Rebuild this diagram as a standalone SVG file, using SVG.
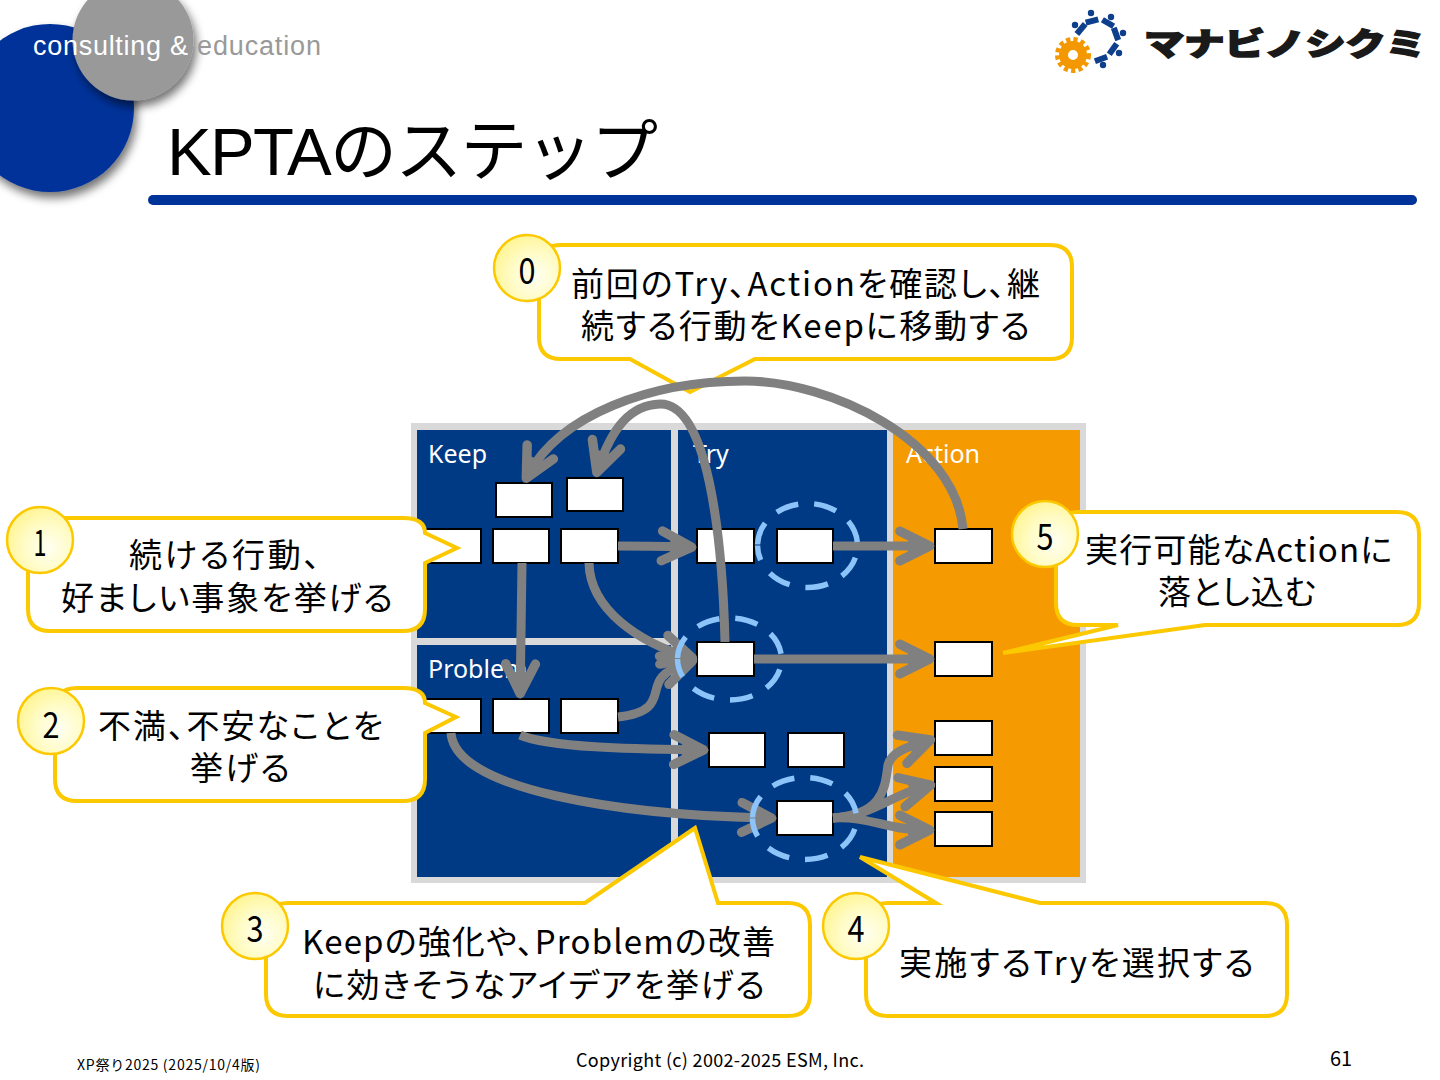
<svg xmlns="http://www.w3.org/2000/svg" width="1440" height="1080" viewBox="0 0 1440 1080">
<style>
text{font-family:"Noto Sans CJK JP","Noto Sans",sans-serif;fill:#000}
.t{font-size:33px;text-anchor:start;font-feature-settings:"palt"}
.n{font-size:36px;text-anchor:middle}
.h{font-family:"Noto Sans","Liberation Sans",sans-serif;font-size:25px;fill:#fff}
.b{fill:#fff;stroke:#000;stroke-width:2}
.c{fill:#fff;stroke:#fcc800;stroke-width:4;stroke-linejoin:miter}
.o{fill:url(#gy);stroke:#fcc800;stroke-width:2.5}
.d{fill:none;stroke:#8cc4fa;stroke-width:5.5;stroke-dasharray:23 16;stroke-dashoffset:-1}
.a{fill:none;stroke:#808080;stroke-width:9;marker-end:url(#ah)}
.p{fill:#0e3f8c}
</style>
<defs>
<marker id="ah" viewBox="-6 -4 8 8" refX="0" refY="0" markerWidth="8" markerHeight="8" orient="auto" markerUnits="strokeWidth" overflow="visible">
<path d="M-2.9 -1.65 L0.4 0 L-2.9 1.65" fill="none" stroke="#808080" stroke-width="1.05" stroke-linecap="round" stroke-linejoin="round"/>
<path d="M-2 -1.4 L1 0 L-2 1.4Z" fill="#808080"/>
</marker>
<radialGradient id="gy" cx="0.62" cy="0.62" r="0.7"><stop offset="0" stop-color="#fffff2"/><stop offset="0.5" stop-color="#fffcc8"/><stop offset="1" stop-color="#fff48c"/></radialGradient>
<filter id="sh" x="-30%" y="-30%" width="170%" height="170%"><feGaussianBlur in="SourceAlpha" stdDeviation="5"/><feOffset dx="3" dy="6"/><feComponentTransfer><feFuncA type="linear" slope="0.55"/></feComponentTransfer><feMerge><feMergeNode/><feMergeNode in="SourceGraphic"/></feMerge></filter>
</defs>
<rect width="1440" height="1080" fill="#fff"/>
<g id="header">
<circle cx="50" cy="108" r="84" fill="#003399" filter="url(#sh)"/>
<circle cx="133" cy="40" r="60.5" fill="#999999" filter="url(#sh)"/>
<text x="33" y="55" font-size="27" textLength="155" style="font-family:'Liberation Sans',sans-serif;fill:#fff">consulting &amp;</text>
<text x="197" y="55" font-size="27" textLength="124" style="font-family:'Liberation Sans',sans-serif;fill:#999">education</text>
<text x="167" y="175" font-size="67" textLength="491" style="font-family:'Liberation Sans','Noto Sans CJK JP',sans-serif">KPTAのステップ</text>
<rect x="148" y="195" width="1269" height="10" rx="5" fill="#003399"/>
</g>
<g id="logo">
<circle cx="1073" cy="55" r="15.5" fill="none" stroke="#f39800" stroke-width="5" stroke-dasharray="4.2 3.1"/>
<circle cx="1073" cy="55" r="9.5" fill="none" stroke="#f39800" stroke-width="9"/>
<g class="p">
<circle cx="1091" cy="13" r="3.2"/><circle cx="1111" cy="17" r="3.2"/><circle cx="1123" cy="33" r="3.2"/><circle cx="1119" cy="53" r="3.2"/><circle cx="1103" cy="65" r="3.2"/><circle cx="1075" cy="25" r="3.2"/>
<rect x="-6.5" y="-3" width="13" height="6" transform="translate(1092 21) rotate(-15)"/>
<rect x="-6.5" y="-3" width="13" height="6" transform="translate(1108 23) rotate(30)"/>
<rect x="-6.5" y="-3" width="13" height="6" transform="translate(1116 34) rotate(70)"/>
<rect x="-6.5" y="-3" width="13" height="6" transform="translate(1113 49) rotate(-55)"/>
<rect x="-6.5" y="-3" width="13" height="6" transform="translate(1101 59) rotate(-20)"/>
<rect x="-6.5" y="-3" width="13" height="6" transform="translate(1081 29) rotate(-50)"/>
</g>
<text x="1144" y="55" font-size="31" font-weight="900" textLength="282" lengthAdjust="spacingAndGlyphs" style="fill:#1a1a1a;stroke:#1a1a1a;stroke-width:1.6;stroke-linejoin:miter">マナビノシクミ</text>
</g>
<g id="board">
<rect x="411" y="423" width="675" height="460" fill="#d9d9d9"/>
<rect x="417" y="430" width="254" height="208" fill="#003984"/>
<rect x="417" y="645" width="254" height="232" fill="#003984"/>
<rect x="678" y="430" width="209" height="447" fill="#003984"/>
<rect x="893" y="430" width="187" height="447" fill="#f59a00"/>
<text class="h" x="428" y="463">Keep</text>
<text class="h" x="428" y="678">Problem</text>
<text class="h" x="693" y="463">Try</text>
<text class="h" x="906" y="463">Action</text>
</g>
<g id="callout-0">
<path class="c" d="M561 245H1050Q1072 245 1072 267V337Q1072 359 1050 359H755L690 392L630 359H561Q539 359 539 337V267Q539 245 561 245Z"/>
<circle class="o" cx="527" cy="268" r="33"/>
<text class="n" x="527" y="284" textLength="17" lengthAdjust="spacingAndGlyphs">0</text>
<text class="t" x="571" y="296" textLength="469">前回のTry、Actionを確認し、継</text>
<text class="t" x="581" y="338" textLength="449">続する行動をKeepに移動する</text>
</g>
<g id="cards">
<rect class="b" x="496" y="483" width="56" height="34"/><rect class="b" x="567" y="478" width="56" height="33"/>
<rect class="b" x="425" y="529" width="56" height="34"/><rect class="b" x="493" y="529" width="56" height="34"/><rect class="b" x="561" y="529" width="57" height="34"/>
<rect class="b" x="697" y="529" width="57" height="34"/><rect class="b" x="777" y="529" width="56" height="34"/><rect class="b" x="935" y="529" width="57" height="34"/>
<rect class="b" x="697" y="642" width="57" height="34"/><rect class="b" x="935" y="642" width="57" height="34"/>
<rect class="b" x="425" y="699" width="56" height="34"/><rect class="b" x="493" y="699" width="56" height="34"/><rect class="b" x="561" y="699" width="57" height="34"/>
<rect class="b" x="709" y="733" width="56" height="34"/><rect class="b" x="788" y="733" width="56" height="34"/>
<rect class="b" x="935" y="721" width="57" height="34"/><rect class="b" x="935" y="767" width="57" height="34"/><rect class="b" x="935" y="812" width="57" height="34"/>
<rect class="b" x="777" y="801" width="56" height="34"/>
</g>
<g id="connectors">
<path class="a" d="M618 546C640 546 665 546 688 547"/>
<path class="a" d="M833 546H926"/>
<path class="a" d="M754 659C810 659 880 659 926 659"/>
<path class="a" d="M522 563L520.200 690"/>
<path class="a" d="M589 563C590 610 640 643 689 657"/>
<path class="a" d="M618 717C665 712 650 690 662 677C668 670 680 665 689 662"/>
<path class="a" d="M520 735C550 748 640 749 700 750"/>
<path class="a" d="M451 733C455 790 620 815 768 818"/>
<path class="a" d="M833 818C885 815 885 785 888 765C892 750 912 746 927 741"/>
<path class="a" d="M833 818C875 815 890 795 927 786"/>
<path class="a" d="M833 818C870 816 885 830 926 830"/>
<path class="a" d="M963 529C955 440 830 381 745 381C650 381 560 415 528 475"/>
<path class="a" d="M725 642C723 560 712 403 660 404C630 405 612 428 598 469"/>
</g>
<g id="selections">
<path class="d" d="M757.500 545.500a50 42 0 1 1 100 0a50 42 0 1 1 -100 0Z"/>
<path class="d" d="M677.500 659a52 41 0 1 1 104 0a52 41 0 1 1 -104 0Z"/>
<path class="d" d="M752.500 818.500a52 41 0 1 1 104 0a52 41 0 1 1 -104 0Z"/>
</g>
<g id="callout-1">
<path class="c" d="M50 518H403Q425 518 425 533L457 548L425 563V609Q425 631 403 631H50Q28 631 28 609V540Q28 518 50 518Z"/>
<circle class="o" cx="40" cy="540" r="33"/>
<text class="n" x="40" y="556" textLength="13" lengthAdjust="spacingAndGlyphs">1</text>
<text class="t" x="129" y="567" textLength="191">続ける行動、</text>
<text class="t" x="61" y="610" textLength="332">好ましい事象を挙げる</text>
</g>
<g id="callout-2">
<path class="c" d="M77 688H403Q425 688 425 703L456 717L425 733V779Q425 801 403 801H77Q55 801 55 779V710Q55 688 77 688Z"/>
<circle class="o" cx="51" cy="721" r="33"/>
<text class="n" x="51" y="738" textLength="17" lengthAdjust="spacingAndGlyphs">2</text>
<text class="t" x="98" y="738" textLength="285">不満、不安なことを</text>
<text class="t" x="190" y="780" textLength="100">挙げる</text>
</g>
<g id="callout-3">
<path class="c" d="M288 903H585L695 828L718 903H788Q810 903 810 925V994Q810 1016 788 1016H288Q266 1016 266 994V925Q266 903 288 903Z"/>
<circle class="o" cx="255" cy="926" r="33"/>
<text class="n" x="255" y="942" textLength="17" lengthAdjust="spacingAndGlyphs">3</text>
<text class="t" x="302" y="954" textLength="473">Keepの強化や、Problemの改善</text>
<text class="t" x="313" y="997" textLength="452">に効きそうなアイデアを挙げる</text>
</g>
<g id="callout-4">
<path class="c" d="M888 903H936L860 857L1040 903H1265Q1287 903 1287 925V994Q1287 1016 1265 1016H888Q866 1016 866 994V925Q866 903 888 903Z"/>
<circle class="o" cx="856" cy="926" r="33"/>
<text class="n" x="856" y="942" textLength="17" lengthAdjust="spacingAndGlyphs">4</text>
<text class="t" x="899" y="975" textLength="355">実施するTryを選択する</text>
</g>
<g id="callout-5">
<path class="c" d="M1078 512H1397Q1419 512 1419 534V603Q1419 625 1397 625H1205L1003 653L1118 625H1078Q1056 625 1056 603V534Q1056 512 1078 512Z"/>
<circle class="o" cx="1045" cy="534" r="33"/>
<text class="n" x="1045" y="550" textLength="17" lengthAdjust="spacingAndGlyphs">5</text>
<text class="t" x="1085" y="562" textLength="307">実行可能なActionに</text>
<text class="t" x="1158" y="604" textLength="158">落とし込む</text>
</g>
<g id="footer">
<text x="77" y="1070" font-size="14" textLength="183">XP祭り2025 (2025/10/4版)</text>
<text x="576" y="1067" font-size="18" textLength="288">Copyright (c) 2002-2025 ESM, Inc.</text>
<text x="1330" y="1066" font-size="20" textLength="22">61</text>
</g>
</svg>
